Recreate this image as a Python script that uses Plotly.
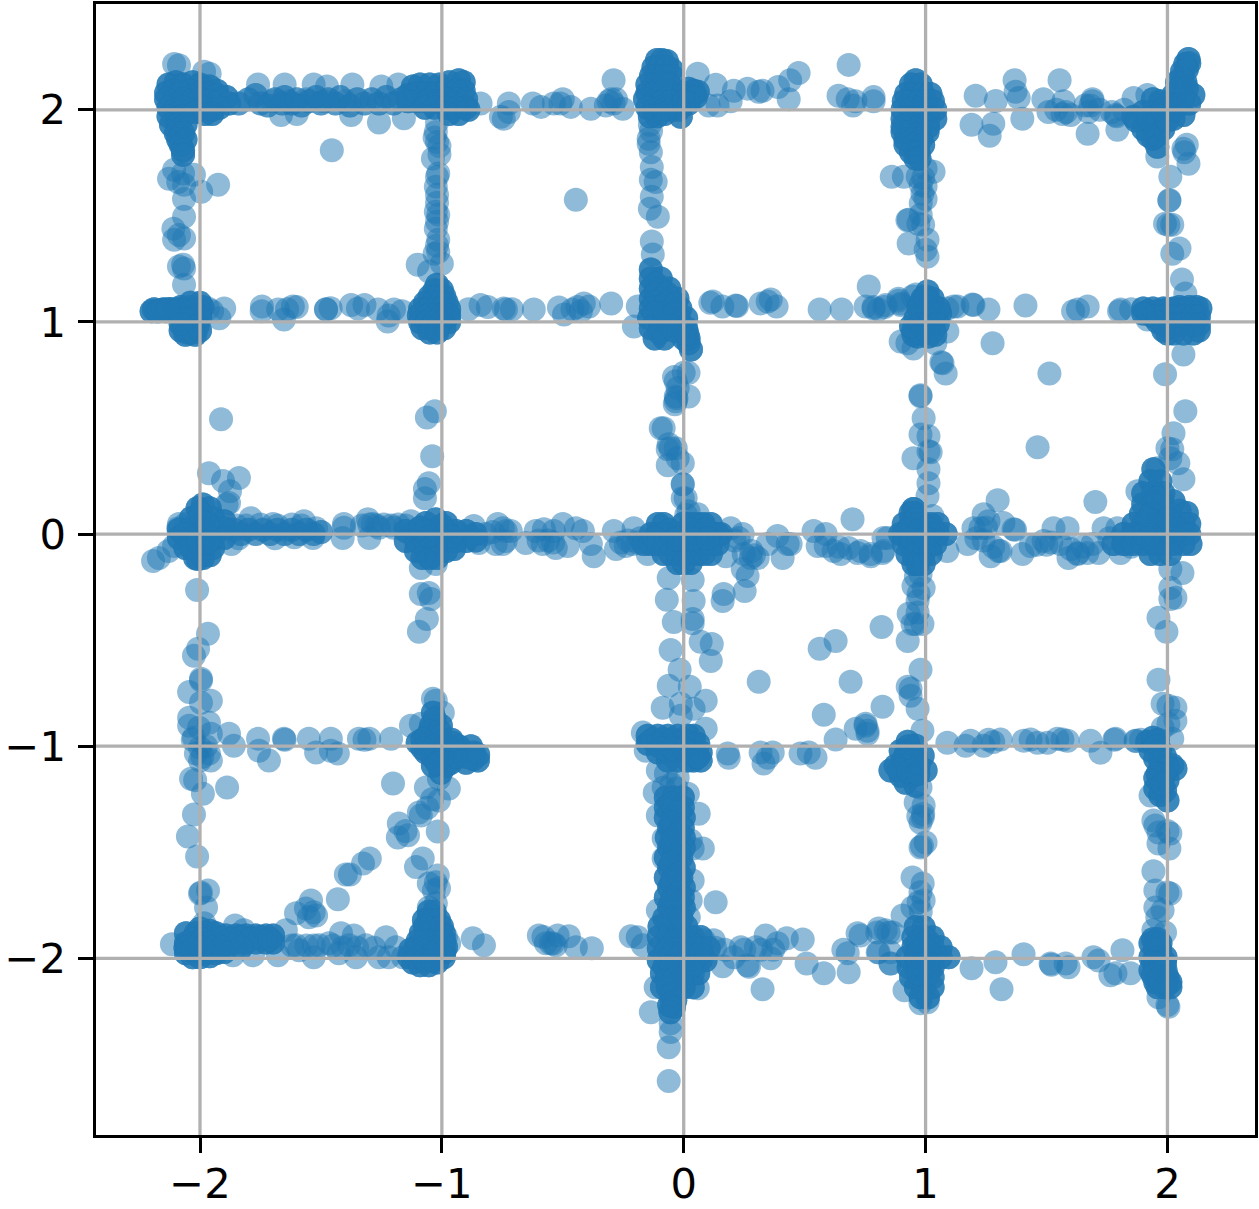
import plotly.graph_objects as go

# Each named list holds (x, y) values.
blob_m2_2 = [(-2.13,2.12),(-2.10,2.13),(-2.07,2.12),(-2.03,2.13),(-2.0,2.12),(-1.96,2.11),(-1.93,2.09),
(-2.14,2.08),(-2.11,2.09),(-2.08,2.08),(-2.04,2.09),(-2.0,2.08),(-1.97,2.08),(-1.93,2.07),(-1.89,2.06),
(-2.14,2.05),(-2.11,2.04),(-2.07,2.05),(-2.04,2.04),(-2.0,2.05),(-1.96,2.04),(-1.92,2.04),(-1.88,2.03),
(-2.13,2.01),(-2.10,2.0),(-2.07,2.01),(-2.03,2.0),(-1.99,2.01),(-1.95,2.0),(-1.92,2.01),
(-2.13,1.97),(-2.10,1.96),(-2.07,1.97),(-2.02,1.99),(-1.98,1.98),(-1.95,1.98),
(-2.12,1.93),(-2.09,1.93),(-2.06,1.93),(-2.10,1.89),(-2.07,1.89),(-2.09,1.86),(-2.06,1.86),(-2.08,1.835),(-2.07,1.81),(-2.07,1.788),
(-2.107,2.216),(-2.087,2.21),(-1.983,2.18),(-1.96,2.17)]
left_edge_top = [(-2.107,1.717),(-2.128,1.675),(-2.07,1.70),(-2.025,1.694),(-2.09,1.66),(-2.066,1.647),(-2.066,1.58),(-1.995,1.614),(-1.925,1.647),
(-2.066,1.496),(-2.11,1.44),(-2.107,1.388),(-2.066,1.393),(-2.087,1.41),(-2.087,1.261),(-2.066,1.252),(-2.066,1.176),(-2.07,1.27)]
top_row_a = [(-1.76,2.12),(-1.65,2.12),(-1.53,2.12),(-1.475,2.11),(-1.37,2.12),(-1.25,2.11),(-1.18,2.12),
(-1.665,1.976),(-1.60,1.98),(-1.375,1.976),(-1.26,1.94),(-1.157,1.96),
(-1.84,2.03),(-1.80,2.05),(-1.77,2.07),(-1.75,2.03),(-1.72,2.02),(-1.69,2.05),(-1.66,2.03),(-1.65,2.06),(-1.62,2.03),(-1.60,2.05),(-1.58,2.02),(-1.55,2.04),
(-1.52,2.06),(-1.50,2.03),(-1.47,2.05),(-1.44,2.03),(-1.42,2.06),(-1.38,2.02),(-1.35,2.05),(-1.32,2.03),(-1.29,2.05),(-1.26,2.03),(-1.23,2.06),(-1.20,2.03),(-1.17,2.05),
(-1.70,2.04),(-1.63,2.04),(-1.56,2.05),(-1.49,2.04),(-1.40,2.04)]
blob_m1_2 = [(-1.12,2.11),(-1.09,2.12),(-1.05,2.12),(-1.01,2.12),(-0.97,2.13),(-0.93,2.14),(-0.91,2.13),
(-1.14,2.07),(-1.10,2.08),(-1.06,2.08),(-1.02,2.08),(-0.98,2.09),(-0.94,2.09),(-0.91,2.09),
(-1.14,2.04),(-1.10,2.04),(-1.06,2.04),(-1.02,2.04),(-0.98,2.05),(-0.94,2.05),(-0.90,2.05),
(-1.07,2.01),(-1.03,2.01),(-0.98,2.01),(-0.94,2.01),(-0.90,2.01),(-0.97,1.98),(-0.93,1.98),(-0.89,2.0),
(-0.84,2.03),(-0.756,1.967),(-0.723,2.03),(-0.723,1.99),(-0.744,1.958)]
edge_m1_upper = [(-1.025,1.896),(-1.02,1.849),(-1.01,1.79),(-1.037,1.77),(-1.015,1.70),(-1.02,1.685),(-1.025,1.638),(-1.02,1.562),(-1.015,1.506),(-1.02,1.473),
(-1.025,1.44),(-1.015,1.388),(-1.03,1.322),(-1.0,1.275),(-1.015,1.33),(-1.10,1.27),(-1.053,1.238),(-1.02,1.94),(-1.03,1.87),(-1.01,1.83),(-1.02,1.60),(-1.025,1.52),(-1.02,1.36)]
blob_m2_1 = [(-2.2,1.05),(-2.18,1.05),(-2.16,1.055),(-2.14,1.05),(-2.12,1.06),(-2.10,1.05),(-2.08,1.07),(-2.06,1.05),(-2.04,1.07),(-2.02,1.05),(-1.99,1.07),
(-2.19,1.06),(-2.15,1.06),(-2.11,1.05),(-2.07,1.06),(-2.03,1.06),(-2.0,1.05),(-2.17,1.05),(-2.13,1.06),(-2.09,1.06),
(-2.04,1.09),(-2.0,1.09),(-2.03,1.02),(-2.0,1.02),(-2.07,1.01),(-2.05,1.01),(-2.07,0.98),(-2.04,0.98),(-2.01,0.98),(-2.08,0.96),(-2.05,0.95),(-2.03,0.95),(-2.0,0.96),(-2.06,0.94),(-2.02,0.94),(-2.08,0.99),
(-1.967,1.064),(-1.90,1.064),(-1.92,1.017),(-1.95,1.05)]
row_1_a = [(-1.744,1.073),(-1.745,1.05),(-1.677,1.059),(-1.616,1.073),(-1.653,1.012),(-1.64,1.06),(-1.479,1.059),(-1.479,1.06),(-1.375,1.08),(-1.347,1.064),(-1.32,1.08),
(-1.264,1.059),(-1.224,1.002),(-1.198,1.059),(-1.165,1.05),(-1.60,1.07),(-1.22,1.03),(-1.46,1.065)]
blob_m1_1 = [(-1.02,1.176),(-1.03,1.15),(-1.00,1.15),(-1.05,1.12),(-1.02,1.12),(-0.99,1.12),(-1.07,1.09),(-1.04,1.09),(-1.01,1.09),(-0.98,1.09),
(-1.09,1.06),(-1.06,1.06),(-1.03,1.06),(-1.0,1.06),(-0.97,1.06),(-1.095,1.03),(-1.06,1.03),(-1.03,1.03),(-1.0,1.03),(-0.97,1.03),
(-1.09,1.0),(-1.06,1.0),(-1.03,1.0),(-1.0,1.0),(-0.97,1.0),(-1.08,0.97),(-1.05,0.97),(-1.02,0.97),(-0.99,0.97),(-1.05,0.95),(-1.02,0.95),
(-0.84,1.08),(-0.744,1.064),(-0.89,1.06),(-0.81,1.07)]
row_1_b = [(-0.735,1.059),(-0.71,1.06),(-0.62,1.059),(-0.516,1.068),(-0.495,1.035),(-0.46,1.059),(-0.425,1.05),(-0.413,1.087),(-0.392,1.073),(-0.30,1.087),(-0.44,1.07)]
top_row_b = [(-0.624,2.03),(-0.59,2.014),(-0.537,2.03),(-0.50,2.05),(-0.467,2.014),(-0.384,2.005),(-0.322,2.02),(-0.30,2.05),(-0.29,2.14),(-0.29,2.03),(-0.252,2.005),(-0.31,2.04),(-0.28,2.05),(-0.51,2.03)]
blob_0_2 = [(-0.11,2.235),(-0.09,2.235),(-0.07,2.23),(-0.125,2.20),(-0.10,2.20),(-0.07,2.20),(-0.05,2.19),(-0.135,2.16),(-0.11,2.16),(-0.08,2.16),(-0.05,2.16),
(-0.15,2.12),(-0.12,2.12),(-0.09,2.12),(-0.06,2.12),(-0.15,2.08),(-0.12,2.08),(-0.09,2.08),(-0.05,2.08),(-0.16,2.05),(-0.12,2.04),(-0.09,2.04),(-0.05,2.04),
(-0.15,2.01),(-0.12,2.0),(-0.08,2.0),(-0.05,2.0),(-0.14,1.97),(-0.11,1.97),(-0.08,1.98),(-0.012,1.967),(-0.02,2.0),
(0.0,2.08),(0.02,2.10),(0.04,2.09),(0.058,2.085),(0.03,2.06),(0.05,2.06),(0.0,2.04),(0.02,2.03),
(0.058,2.17),(0.132,2.118),(0.103,2.02),(0.14,2.02),(0.194,2.04),(0.207,2.09),(0.264,2.10),(0.31,2.085),(0.326,2.09),(0.39,2.108),(0.434,2.05),(0.44,2.14),(0.475,2.174),
(0.682,2.212),(0.64,2.066),(0.678,2.05),(0.70,2.02),(0.71,2.04),(0.785,2.06),(0.785,2.04)]
edge_0_upper = [(-0.145,1.864),(-0.145,1.84),(-0.136,1.80),(-0.132,1.73),(-0.136,1.67),(-0.116,1.66),(-0.132,1.59),(-0.14,1.534),(-0.107,1.496),(-0.132,1.379),(-0.128,1.318),(-0.135,1.90),(-0.14,1.93)]
isolated = [(-0.446,1.576),(-1.455,1.81)]
blob_0_1 = [(-0.136,1.247),(-0.136,1.205),(-0.095,1.205),(-0.136,1.158),(-0.095,1.158),(-0.06,1.158),(-0.115,1.18),(-0.136,1.11),(-0.095,1.11),(-0.054,1.11),(-0.026,1.11),(-0.115,1.135),(-0.07,1.135),
(-0.136,1.064),(-0.095,1.064),(-0.054,1.064),(-0.014,1.064),(-0.115,1.09),(-0.075,1.085),(-0.035,1.085),(-0.143,1.017),(-0.10,1.017),(-0.06,1.017),(-0.02,1.017),(0.01,1.017),
(-0.12,1.04),(-0.08,1.04),(-0.04,1.04),(-0.136,0.97),(-0.095,0.97),(-0.02,0.97),(0.01,0.97),(-0.06,0.985),(-0.12,0.922),(-0.08,0.922),(0.0,0.922),(0.02,0.922),(0.02,0.90),(0.03,0.87),(-0.10,0.95),(-0.04,0.96),(0.015,0.945),
(-0.206,0.979),(-0.19,1.073)]
row_1_c = [(0.12,1.096),(0.11,1.09),(0.16,1.073),(0.215,1.078),(0.22,1.075),(0.318,1.087),(0.36,1.106),(0.347,1.096),(0.384,1.073),(0.562,1.059),(0.653,1.059),(0.752,1.073),(0.765,1.167),(0.785,1.064),(0.806,1.059),(0.835,1.08),(0.888,1.11),(0.897,1.087),(0.946,1.12)]
blob_1_2 = [(0.959,2.14),(0.94,2.12),(0.98,2.12),(0.92,2.075),(0.95,2.075),(0.99,2.075),(1.02,2.075),(0.91,2.04),(0.94,2.04),(0.97,2.04),(1.0,2.04),(1.03,2.04),
(0.905,2.0),(0.94,2.0),(0.975,2.0),(1.01,2.0),(1.04,2.0),(0.905,1.958),(0.94,1.958),(0.975,1.958),(1.01,1.958),(1.04,1.958),(0.905,1.92),(0.94,1.92),(0.975,1.92),(1.01,1.92),
(0.905,1.896),(0.94,1.896),(0.975,1.89),(1.008,1.896),(0.917,1.86),(0.95,1.86),(0.98,1.86),(0.917,1.835),(0.95,1.835),(0.99,1.835),(0.94,1.80),(0.97,1.80),(0.959,1.77),(0.975,1.77)]
edge_1_upper = [(1.033,1.708),(1.0,1.722),(0.967,1.685),(0.91,1.685),(0.86,1.685),(0.98,1.647),(0.987,1.605),(1.0,1.58),(0.98,1.56),(0.93,1.482),(0.925,1.48),(0.98,1.506),(0.99,1.458),(0.93,1.37),(1.008,1.388),(1.0,1.34),(1.008,1.308),(0.97,1.463),(0.99,1.68),(1.0,1.64)]
top_row_c = [(1.207,2.066),(1.29,2.042),(1.19,1.93),(1.28,1.934),(1.265,1.878),(1.368,2.14),(1.372,2.085),(1.385,2.056),(1.40,1.958),(1.487,2.05),(1.554,2.14),(1.508,1.99),(1.57,2.04),(1.566,1.98),(1.60,1.976),(1.58,1.99),
(1.69,2.04),(1.682,2.02),(1.674,1.99),(1.69,2.05),(1.67,1.887),(1.785,1.976),(1.793,1.906),(1.77,1.99),(1.86,2.056),(1.917,2.07),(1.79,1.97),(1.54,2.0),(1.66,2.02),(1.72,2.0),(1.82,2.0)]
blob_2_2 = [(2.087,2.24),(2.074,2.216),(2.06,2.18),(2.09,2.22),(2.08,2.19),(2.04,2.13),(2.074,2.13),(2.06,2.15),(2.025,2.07),(2.066,2.06),(2.107,2.07),(2.05,2.10),(2.08,2.10),(2.012,2.005),(2.066,1.976),(1.97,2.04),(1.94,2.05),
(1.90,1.99),(1.86,1.967),(1.94,1.99),(1.983,1.976),(1.90,1.91),(1.94,1.864),(1.958,1.826),(1.983,1.91),(2.025,1.958),(1.94,1.93),(1.92,1.88),(2.0,2.03),(2.04,2.02),(1.96,1.94),(1.87,1.95),(1.92,1.96),(1.96,1.88),(2.0,1.95),(2.03,2.0),(1.98,2.0),(2.09,2.03),
(1.958,1.78),(2.066,1.817),(2.07,1.80),(2.08,1.835),(2.087,1.746),(2.012,1.685),(2.008,1.572),(2.008,1.575),(1.99,1.463),(2.004,1.458),(2.02,1.458),(2.05,1.346),(2.02,1.322),(2.06,1.20),(2.074,1.134)]
blob_2_1 = [(1.90,1.064),(1.94,1.064),(1.983,1.064),(2.025,1.064),(2.066,1.064),(2.107,1.064),(2.136,1.064),(1.92,1.05),(1.96,1.05),(2.0,1.06),(2.05,1.07),(2.09,1.07),(2.12,1.07),
(1.94,1.026),(1.983,1.026),(2.025,1.026),(2.066,1.026),(2.107,1.026),(2.13,1.026),(1.90,1.04),(1.983,0.988),(2.025,0.988),(2.066,0.988),(2.107,0.988),(2.13,0.988),(1.96,1.0),
(2.0,0.946),(2.025,0.946),(2.066,0.946),(2.107,0.946),(2.13,0.96),(1.983,0.96),
(1.806,1.059),(1.80,1.05),(1.917,1.012),(1.61,1.05),(1.63,1.059),(1.67,1.073),(1.413,1.078),(1.26,1.059),(1.277,0.90),(1.512,0.757),(1.99,0.753),(2.066,0.847),(1.85,1.06)]
blob_1_1 = [(1.008,1.144),(0.987,1.11),(1.029,1.11),(0.971,1.064),(1.012,1.064),(1.054,1.064),(0.959,1.017),(1.0,1.017),(1.041,1.017),(0.95,0.965),(0.992,0.965),(1.033,0.965),(0.967,0.932),(1.012,0.932),
(0.98,1.09),(1.02,1.09),(0.99,1.04),(1.03,1.04),(1.06,1.04),(0.975,0.99),(1.01,0.99),(1.05,0.99),(0.95,0.94),(0.985,0.945),(1.04,0.94),(1.0,1.12),(0.94,0.98),
(1.132,1.073),(1.194,1.082),(1.198,1.08),(1.09,0.955),(0.897,0.908),(0.925,0.90),(0.95,0.875),(1.04,0.90),(1.07,0.805),(1.083,0.757),(1.065,0.81),(1.09,1.064),(1.116,1.073),
(0.785,1.07),(0.83,1.07),(0.888,1.10),(0.897,1.08),(0.96,1.13)]
above_m2_0 = [(-1.913,0.541),(-1.963,0.287),(-1.905,0.25),(-1.839,0.264),(-1.876,0.202),(-1.88,0.146),(-1.89,0.14)]
blob_m2_0 = [(-2.194,-0.127),(-2.17,-0.113),(-2.13,-0.08),(-2.107,-0.056),(-2.09,0.028),(-2.087,0.047),(-2.058,0.047),
(-1.988,0.14),(-2.01,0.122),(-1.96,0.122),(-2.037,0.075),(-2.0,0.075),(-1.946,0.075),(-1.90,0.06),(-2.087,0.02),(-2.037,0.028),(-1.988,0.028),(-1.946,0.028),(-1.90,0.028),
(-2.087,-0.019),(-2.037,-0.019),(-1.988,-0.019),(-1.946,-0.019),(-1.90,-0.019),(-2.06,-0.066),(-2.037,-0.066),(-1.988,-0.066),(-1.946,-0.066),(-2.02,-0.113),(-1.988,-0.113),(-1.96,-0.10),(-2.008,-0.118),(-2.0,0.10),(-1.97,0.05),(-2.06,0.0),(-2.01,-0.04),(-1.97,-0.04)]
row_0_a = [(-1.79,0.075),(-1.698,0.047),(-1.57,0.061),(-1.533,-0.019),(-1.52,0.028),(-1.87,-0.047),(-1.86,0.02),(-1.83,0.0),(-1.80,0.02),(-1.77,0.0),(-1.74,0.02),(-1.71,0.0),(-1.68,0.02),(-1.65,0.0),(-1.62,0.02),(-1.59,0.0),(-1.56,0.02),(-1.53,0.0),(-1.50,0.01),
(-1.85,0.04),(-1.81,0.04),(-1.75,0.045),(-1.68,0.04),(-1.62,0.045),(-1.58,0.04),(-1.84,-0.02),(-1.69,-0.02),(-1.61,-0.015),
(-1.405,0.047),(-1.405,0.03),(-1.41,-0.019),(-1.306,0.07),(-1.30,-0.019),(-1.285,0.047),(-1.128,0.061),(-1.33,0.04),(-1.30,0.045),(-1.27,0.04),(-1.24,0.045),(-1.21,0.04),(-1.18,0.045),(-1.26,0.03),(-1.15,0.04),(-1.20,0.03)]
blob_m1_0 = [(-1.066,0.052),(-1.025,0.07),(-0.983,0.052),(-1.107,0.014),(-1.066,0.014),(-1.025,0.014),(-0.983,0.014),(-0.942,0.014),(-1.149,0.014),(-0.90,0.014),(-0.86,0.0),
(-1.149,-0.033),(-1.107,-0.033),(-1.066,-0.033),(-1.025,-0.033),(-0.983,-0.033),(-0.942,-0.033),(-0.90,-0.033),(-0.86,-0.03),
(-1.107,-0.08),(-1.066,-0.08),(-1.025,-0.08),(-0.983,-0.08),(-0.95,-0.07),(-1.08,-0.113),(-1.05,-0.113),(-1.02,-0.113),(-1.09,0.03),(-1.0,0.04),(-1.05,-0.01),(-0.96,-0.01),
(-1.087,-0.16),(-1.025,-0.141),(-0.868,0.038),(-0.769,0.047),(-0.777,-0.047),(-0.736,0.014),(-0.736,-0.033),(-0.847,-0.042),(-0.82,0.0),(-0.79,0.01)]
edge_m1_mid = [(-1.062,0.55),(-1.029,0.579),(-1.04,0.367),(-1.054,0.24),(-1.07,0.212),(-1.07,0.169),(-1.087,-0.282),(-1.054,-0.278),(-1.045,-0.306),(-1.062,-0.40),(-1.095,-0.461)]
edge_m2_mid = [(-2.012,-0.264),(-1.967,-0.47),(-2.008,-0.541),(-2.025,-0.574),(-1.996,-0.682),(-1.996,-0.69),(-2.045,-0.744),(-1.955,-0.786),(-1.996,-0.795),(-2.045,-0.866),(-1.963,-0.889),(-2.045,-0.904),(-2.004,-0.913),(-2.025,-0.96),(-1.88,-0.941),(-1.955,-0.941),
(-2.0,-1.007),(-2.03,-0.97),(-1.975,-1.0),(-2.017,-1.035),(-1.963,-1.035),(-1.99,-1.05),(-1.955,-1.068),(-2.0,-1.068),(-2.037,-1.153),(-2.02,-1.16),(-1.988,-1.224),(-1.888,-1.195),(-2.025,-1.322),(-2.05,-1.426),(-2.012,-1.52)]
row_m1_a = [(-1.86,-0.998),(-1.76,-0.965),(-1.756,-1.021),(-1.715,-1.068),(-1.653,-0.965),(-1.65,-0.97),(-1.55,-0.965),(-1.52,-1.03),(-1.459,-0.965),(-1.459,-1.021),(-1.43,-1.035),(-1.343,-0.965),(-1.30,-0.965),(-1.21,-0.965),(-1.32,-0.97)]
blob_m1_m1 = [(-1.037,-0.842),(-1.045,-0.904),(-1.004,-0.904),(-1.066,-0.96),(-1.017,-0.96),(-1.10,-0.984),(-1.054,-0.984),(-1.004,-0.984),(-0.955,-0.984),(-1.066,-1.03),(-1.017,-1.03),(-0.967,-1.03),(-0.917,-1.03),(-0.868,-1.03),
(-0.851,-1.068),(-0.90,-1.078),(-0.963,-1.078),(-1.037,-1.092),(-1.004,-1.125),(-0.983,-1.092),(-1.03,-0.87),(-1.05,-0.93),(-1.01,-0.93),(-1.08,-0.97),(-1.03,-1.0),(-0.98,-1.0),(-0.93,-1.0),(-0.88,-1.0),(-0.85,-1.04),(-0.90,-1.05),(-0.94,-1.05),(-1.0,-1.05),(-1.04,-1.05),(-1.08,-1.01),(-0.87,-1.06),(-1.02,-1.08),(-0.96,-0.97),
(-1.128,-0.904),(-1.037,-0.776),(-1.025,-0.786),(-0.996,-0.842),(-1.087,-0.894)]
edge_m1_lower = [(-1.066,-1.195),(-1.012,-1.153),(-0.971,-1.20),(-1.012,-1.256),(-1.202,-1.176),(-1.087,-1.327),(-1.095,-1.313),(-1.178,-1.365),(-1.182,-1.43),(-1.14,-1.42),(-1.017,-1.402),(-1.079,-1.53),(-1.107,-1.57),(-1.017,-1.61),(-1.025,-1.642),(-1.054,-1.647),(-1.012,-1.67),(-1.033,-1.68),(-1.054,-1.76),(-1.025,-1.741),(-1.04,-1.25),(-1.06,-1.29),(-1.15,-1.40)]
diagonal = [(-1.298,-1.53),(-1.326,-1.553),(-1.38,-1.605),(-1.397,-1.605),(-1.43,-1.722),(-1.541,-1.727),(-1.562,-1.765),(-1.52,-1.798),(-1.53,-1.783),(-1.603,-1.788),(-1.55,-1.807)]
blob_m2_m2 = [(-2.116,-1.934),(-1.983,-1.835),(-1.975,-1.76),(-1.996,-1.69),(-1.967,-1.68),(-2.0,-1.695),(-2.0,-1.86),(-1.96,-1.87),
(-2.058,-1.882),(-2.017,-1.882),(-1.975,-1.882),(-1.934,-1.882),(-2.058,-1.929),(-2.017,-1.929),(-1.975,-1.929),(-1.934,-1.929),(-2.058,-1.976),(-2.017,-1.976),(-1.975,-1.976),(-1.934,-1.976),(-2.03,-1.995),(-2.0,-1.995),(-1.96,-1.99),(-2.06,-1.95),(-2.03,-1.91),(-1.99,-1.91),(-1.95,-1.95),(-1.99,-1.95),(-2.03,-1.96),
(-1.893,-1.892),(-1.851,-1.892),(-1.81,-1.892),(-1.769,-1.892),(-1.727,-1.892),(-1.698,-1.892),(-1.893,-1.925),(-1.851,-1.925),(-1.81,-1.925),(-1.769,-1.925),(-1.727,-1.925),(-1.698,-1.925),(-1.87,-1.91),(-1.83,-1.90),(-1.79,-1.91),(-1.75,-1.90),(-1.71,-1.91),(-1.91,-1.95),(-1.83,-1.95),(-1.90,-1.97),
(-1.855,-1.845),(-1.818,-1.868),(-1.864,-1.986),(-1.781,-1.986),(-1.678,-1.986)]
row_m2_a = [(-1.603,-1.939),(-1.59,-1.962),(-1.53,-1.995),(-1.508,-1.939),(-1.53,-1.94),(-1.417,-1.882),(-1.364,-1.892),(-1.426,-1.976),(-1.355,-1.995),(-1.384,-1.939),(-1.467,-1.929),(-1.314,-1.939),(-1.231,-1.901),(-1.26,-1.995),(-1.19,-1.948),(-1.22,-1.995),(-1.645,-1.868),(-1.56,-1.94),(-1.45,-1.94),(-1.28,-1.95),(-1.35,-1.95),(-1.41,-1.95),(-1.62,-1.94)]
blob_m1_m2 = [(-1.054,-1.78),(-1.03,-1.78),(-1.074,-1.821),(-1.054,-1.821),(-1.033,-1.821),(-1.012,-1.821),(-1.087,-1.882),(-1.054,-1.882),(-1.033,-1.86),(-1.012,-1.882),(-0.992,-1.882),(-1.07,-1.85),(-1.0,-1.85),
(-1.107,-1.948),(-1.074,-1.948),(-1.033,-1.948),(-0.983,-1.948),(-1.07,-1.92),(-1.03,-1.92),(-0.99,-1.92),(-1.10,-1.92),(-1.136,-1.995),(-1.107,-1.995),(-1.074,-1.995),(-1.033,-1.995),(-0.992,-1.995),(-1.07,-1.97),(-1.03,-1.97),(-0.99,-1.97),(-1.13,-1.96),
(-1.12,-2.02),(-1.09,-2.033),(-1.054,-2.033),(-1.02,-2.02),(-1.07,-2.01),(-1.04,-2.01),
(-0.872,-1.906),(-0.826,-1.939),(-0.983,-1.90),(-1.161,-1.995),(-0.97,-1.93)]
row_0_b = [(-0.748,0.028),(-0.715,0.014),(-0.748,-0.047),(-0.653,-0.042),(-0.612,0.014),(-0.578,0.023),(-0.583,-0.047),(-0.56,-0.03),(-0.529,-0.066),(-0.50,0.047),(-0.537,0.014),(-0.48,-0.056),(-0.446,0.028),(-0.417,0.014),(-0.372,-0.104),(-0.384,-0.047),(-0.289,0.014),(-0.28,-0.07),(-0.24,-0.056),(-0.207,0.028),(-0.26,-0.04),(-0.21,-0.047),(-0.149,-0.094),(-0.19,-0.04),(-0.23,-0.03),(-0.18,-0.02),(-0.54,-0.04),(-0.60,-0.03)]
blob_0_0 = [(-0.107,0.047),(-0.083,0.047),(0.029,0.047),(0.058,0.047),(0.083,0.047),(0.112,0.047),(-0.136,0.0),(-0.107,0.0),(-0.083,0.0),(-0.054,0.0),(-0.025,0.0),(0.0,0.0),(0.029,0.0),(0.058,0.0),(0.083,0.0),(0.112,0.0),(0.14,0.0),(0.153,0.0),
(-0.165,-0.047),(-0.136,-0.047),(-0.107,-0.047),(-0.083,-0.047),(-0.054,-0.047),(-0.025,-0.047),(0.0,-0.047),(0.029,-0.047),(0.058,-0.047),(0.083,-0.047),(0.112,-0.047),(0.14,-0.047),
(-0.083,-0.094),(-0.054,-0.094),(-0.025,-0.094),(0.0,-0.094),(0.029,-0.094),(0.058,-0.094),(0.083,-0.094),(0.112,-0.094),(-0.025,-0.136),(0.0,-0.136),(0.029,-0.136),(-0.06,0.02),(0.0,0.05),(0.03,0.02),(0.09,0.02),(-0.03,-0.02),(0.04,-0.02),(0.1,-0.02),(-0.12,-0.02),
(0.008,0.169),(-0.004,0.235),(0.02,0.108),(0.058,0.094),(0.01,0.09)]
row_0_c = [(0.194,0.028),(0.174,-0.104),(0.244,0.0),(0.227,-0.019),(0.248,-0.094),(0.277,-0.113),(0.306,-0.113),(0.29,-0.1),(0.244,-0.165),(0.264,-0.198),(0.252,-0.268),(0.165,-0.282),(0.161,-0.315),(0.347,-0.047),(0.388,-0.009),(0.409,-0.113),(0.43,-0.047),(0.442,-0.047),
(0.537,0.014),(0.587,0.0),(0.698,0.07),(0.554,-0.056),(0.587,-0.056),(0.62,-0.08),(0.649,-0.094),(0.682,-0.066),(0.719,-0.089),(0.773,-0.104),(0.826,-0.08),(0.843,-0.019),(0.64,-0.06),(0.21,-0.03),(0.28,-0.08)]
edge_0_lower_a = [(-0.062,-0.207),(0.037,-0.216),(-0.07,-0.31),(0.041,-0.315),(-0.041,-0.414),(0.037,-0.40),(0.037,-0.42),(0.07,-0.508),(0.116,-0.518),(0.112,-0.598),(-0.054,-0.546),(-0.017,-0.64),(-0.062,-0.715),(0.025,-0.72),(-0.087,-0.819),(-0.012,-0.80),(0.091,-0.786),(0.041,-0.824),(-0.012,-0.856),(0.091,-0.918)]
edge_0_mid = [(-0.095,0.499),(-0.083,0.499),(-0.062,0.424),(-0.054,0.405),(-0.066,0.40),(-0.033,0.405),(-0.066,0.325),(-0.004,0.334),(-0.025,0.358),(-0.004,0.235),(-0.004,0.169),(-0.033,0.626),(-0.033,0.649),(-0.037,0.612),(0.021,0.649),(-0.025,0.687),(-0.033,0.72),(0.0,0.76),(0.02,0.76),(-0.04,0.74),(-0.03,0.64)]
blob_0_m1 = [(-0.169,-0.936),(-0.157,-1.021),(-0.149,-0.951),(-0.107,-0.951),(-0.066,-0.951),(-0.025,-0.951),(0.017,-0.951),(0.041,-0.951),(-0.149,-0.988),(-0.107,-0.988),(-0.066,-0.988),(-0.025,-0.988),(0.017,-0.988),(0.041,-0.988),(0.06,-0.99),
(-0.107,-1.03),(-0.066,-1.03),(-0.025,-1.03),(0.017,-1.03),(0.041,-1.03),(0.07,-1.03),(-0.066,-1.068),(-0.025,-1.068),(0.017,-1.068),(0.041,-1.068),(0.07,-1.068),(-0.13,-0.97),(-0.085,-0.97),(-0.045,-0.97),(0.0,-0.97),(-0.09,-1.01),(-0.045,-1.01),(0.0,-1.01),(0.05,-1.05),(0.06,-1.05)]
row_m1_b = [(0.182,-1.035),(0.186,-1.054),(0.318,-1.03),(0.33,-1.082),(0.368,-1.03),(0.347,-1.054),(0.483,-1.035),(0.517,-1.03),(0.545,-1.054),(0.628,-0.969),(0.711,-0.918),(0.752,-0.904),(0.76,-0.927),(0.822,-0.814),(0.579,-0.852),(0.69,-0.696),(0.31,-0.696),(0.562,-0.541),(0.628,-0.504),(0.818,-0.438)]
edge_1_mid = [(0.979,0.654),(0.979,0.65),(0.992,0.546),(0.979,0.47),(1.012,0.461),(1.012,0.39),(1.021,0.386),(0.95,0.358),(1.012,0.306),(1.012,0.24),(1.008,0.179),(1.029,0.085),(0.95,0.118)]
scatter_right = [(1.463,0.409),(2.074,0.579),(2.025,0.475),(2.0,0.405),(2.02,0.40),(2.012,0.358),(2.045,0.334),(1.958,0.31),(2.066,0.259),(1.876,0.202),(1.702,0.151)]
row_0_d = [(1.298,0.16),(1.24,0.094),(1.26,0.061),(1.198,0.028),(1.322,0.052),(1.364,0.023),(1.37,0.02),(1.174,-0.047),(1.227,0.028),(1.269,-0.104),(1.302,-0.08),(1.31,-0.08),(1.40,-0.094),(1.434,-0.056),(1.488,-0.033),(1.529,0.028),(1.587,0.028),(1.52,-0.04),(1.558,-0.047),(1.591,-0.113),(1.628,-0.094),(1.669,-0.089),(1.69,-0.047),(1.715,-0.089),(1.736,0.028),(1.793,0.028),(1.806,-0.089),(1.835,-0.047),(1.85,-0.06),(1.84,-0.02),
(1.24,-0.03),(1.28,-0.06),(1.21,-0.02),(1.46,-0.05),(1.50,-0.05),(1.60,-0.07),(1.65,-0.06),(1.76,-0.02),(1.63,-0.09),(1.25,0.03)]
blob_1_0 = [(0.95,0.118),(0.95,0.099),(0.938,0.099),(0.91,0.047),(0.938,0.047),(0.967,0.047),(0.992,0.047),(1.021,0.047),(1.05,0.047),(0.895,0.0),(0.91,0.0),(0.938,0.0),(0.967,0.0),(0.992,0.0),(1.021,0.0),(1.05,0.0),(1.083,0.0),
(0.91,-0.047),(0.938,-0.047),(0.967,-0.047),(0.992,-0.047),(1.021,-0.047),(1.04,-0.047),(0.925,-0.094),(0.95,-0.094),(0.967,-0.094),(0.992,-0.094),(1.021,-0.094),(0.95,-0.141),(0.967,-0.141),(0.992,-0.141),(0.96,0.07),(0.93,0.02),(0.98,0.02),(1.03,0.02),(0.94,-0.02),(1.0,-0.02),
(0.826,-0.019),(0.822,-0.089),(0.773,-0.094),(0.731,-0.08),(1.09,-0.08)]
edge_1_lower_a = [(0.95,-0.245),(0.992,-0.254),(0.971,-0.282),(0.967,-0.315),(0.93,-0.376),(0.967,-0.37),(0.959,-0.424),(0.987,-0.424),(0.946,-0.424),(0.926,-0.504),(0.979,-0.19),(0.96,-0.2),
(0.979,-0.64),(0.926,-0.72),(0.938,-0.729),(0.938,-0.762),(0.967,-0.824),(0.752,-0.894),(0.76,-0.941),(0.987,-0.927)]
blob_1_m1 = [(0.926,-0.979),(0.959,-0.998),(0.897,-1.021),(0.946,-1.031),(0.988,-1.045),(0.876,-1.092),(0.917,-1.092),(0.971,-1.092),(0.855,-1.115),(0.897,-1.139),(0.946,-1.139),(1.0,-1.115),(0.917,-1.172),(0.959,-1.186),(0.93,-1.0),(0.92,-1.03),(0.96,-1.04),(0.91,-1.06),(0.95,-1.07),(0.89,-1.11),(0.93,-1.12),(0.97,-1.13)]
row_m1_c = [(1.09,-0.984),(1.165,-0.998),(1.186,-0.974),(1.24,-0.998),(1.28,-0.98),(1.31,-0.969),(1.26,-0.97),(1.405,-0.974),(1.434,-0.969),(1.463,-0.984),(1.504,-0.984),(1.545,-0.965),(1.566,-0.969),(1.587,-0.974),(1.682,-0.974),(1.723,-1.031),(1.785,-0.965),(1.78,-0.97),(1.868,-0.974),(1.87,-0.975)]
blob_2_m1 = [(1.917,-0.979),(1.95,-0.979),(1.93,-1.02),(1.97,-1.02),(1.97,-1.068),(2.02,-1.09),(1.97,-1.106),(2.033,-1.106),(1.983,-1.139),(1.95,-1.15),(2.0,-1.16),(1.95,-1.2),(1.99,-1.21),(1.97,-1.23),(2.0,-1.256),(1.94,-0.96),(1.96,-0.97),(1.95,-1.0),(1.99,-1.05),(1.95,-1.06),(2.0,-1.10),(1.96,-1.13),(1.98,-1.18),
(1.89,-0.97),(1.963,-0.687),(1.98,-0.80),(2.033,-0.819),(2.004,-0.809),(2.033,-0.88),(2.004,-0.894),(1.98,-0.913),(2.02,-0.965)]
edge_2_lower = [(1.93,-1.233),(1.942,-1.35),(1.95,-1.374),(1.963,-1.407),(2.012,-1.412),(2.0,-1.40),(1.963,-1.459),(2.008,-1.482),(1.942,-1.59),(1.95,-1.68),(2.012,-1.694),(2.0,-1.69),(1.95,-1.76),(1.98,-1.774),(1.958,-1.807),(1.942,-1.868),(1.99,-1.878)]
blob_2_m2 = [(1.93,-1.929),(1.95,-1.929),(1.971,-1.929),(1.93,-1.995),(1.95,-1.995),(1.971,-1.995),(1.992,-1.995),(1.93,-2.056),(1.95,-2.056),(1.971,-2.056),(1.992,-2.056),(1.95,-2.113),(1.971,-2.113),(1.992,-2.113),(2.012,-2.113),(1.95,-1.96),(1.97,-1.96),(1.94,-2.02),(1.97,-2.02),(1.99,-2.02),(1.94,-2.08),(1.97,-2.09),(2.0,-2.09),(1.96,-2.136),(1.99,-2.136),(2.012,-2.136),(1.94,-1.91),(1.96,-1.91),
(1.963,-2.184),(2.004,-2.23),(2.0,-2.22),(1.814,-1.962),(1.694,-1.995),(1.715,-2.01),(1.764,-2.08),(1.785,-2.07),(1.847,-2.07),(1.405,-1.981),(1.289,-2.019),(1.314,-2.146),(1.19,-2.047),(1.517,-2.024),(1.52,-2.03),(1.579,-2.024),(1.591,-2.042)]
blob_1_m2 = [(0.959,-1.854),(0.992,-1.854),(0.95,-1.901),(0.992,-1.901),(1.029,-1.901),(0.95,-1.948),(0.992,-1.948),(1.029,-1.948),(1.062,-1.948),(0.925,-1.995),(0.959,-1.995),(0.992,-1.995),(1.029,-1.995),(1.062,-1.995),(1.095,-1.995),(0.93,-2.042),(0.959,-2.042),(0.992,-2.042),(1.029,-2.042),(0.94,-2.089),(0.992,-2.089),(1.029,-2.089),(0.96,-2.136),(0.992,-2.136),(1.029,-2.136),(0.98,-2.184),(1.01,-2.184),(0.97,-1.92),(1.01,-1.92),(0.97,-1.97),(1.01,-1.97),(0.97,-2.02),(1.01,-2.02),(0.97,-2.07),(1.01,-2.07),
(0.913,-2.151),(0.979,-2.212),(1.008,-2.207),(0.855,-2.024),(0.806,-1.859),(0.835,-1.868),(0.864,-1.878),(0.802,-1.972),(0.855,-1.972),(0.731,-1.892),(0.905,-1.798),(0.946,-1.619),(0.988,-1.647),(0.979,-1.689),(0.971,-1.736),(0.992,-1.727),(0.946,-1.76),(0.98,-1.78),
(0.979,-1.478),(0.985,-1.47),(1.0,-1.454),(0.979,-1.36),(0.988,-1.336),(0.959,-1.266),(0.992,-1.28),(0.979,-1.195),(0.99,-1.32),(0.97,-1.33)]
blob_2_0 = [(1.942,0.306),(1.93,0.249),(1.97,0.249),(1.90,0.193),(1.942,0.193),(1.983,0.193),(1.90,0.141),(1.942,0.141),(1.983,0.141),(2.025,0.155),(1.89,0.094),(1.93,0.094),(1.97,0.094),(2.01,0.094),(2.05,0.11),(2.08,0.099),
(1.86,0.047),(1.90,0.047),(1.942,0.047),(1.983,0.047),(2.025,0.047),(2.066,0.047),(2.09,0.047),(1.818,0.0),(1.86,0.0),(1.90,0.0),(1.942,0.0),(1.983,0.0),(2.025,0.0),(2.066,0.0),(2.09,0.0),
(1.777,-0.047),(1.818,-0.047),(1.86,-0.047),(1.90,-0.047),(1.942,-0.047),(1.983,-0.047),(2.025,-0.047),(2.066,-0.047),(2.095,-0.047),(1.93,-0.094),(1.97,-0.094),(2.01,-0.094),(1.92,0.07),(1.96,0.03),(2.0,0.07),(1.96,0.17),(2.04,0.02),(1.92,-0.02),(2.0,-0.02),
(2.012,-0.165),(2.062,-0.184),(2.012,-0.254),(2.033,-0.30),(2.012,-0.306),(1.963,-0.395),(1.996,-0.461)]
edge_0_lower_b = [(-0.074,-1.242),(-0.041,-1.242),(-0.004,-1.242),(-0.074,-1.289),(-0.041,-1.289),(-0.004,-1.289),(-0.074,-1.336),(-0.041,-1.336),(0.0,-1.336),(-0.06,-1.384),(-0.041,-1.384),(-0.004,-1.384),(-0.07,-1.431),(-0.041,-1.431),(0.0,-1.431),(-0.06,-1.478),(-0.03,-1.478),(0.0,-1.478),(-0.074,-1.525),(-0.041,-1.525),(-0.01,-1.525),
(-0.06,-1.572),(-0.03,-1.572),(0.0,-1.572),(-0.074,-1.619),(-0.041,-1.619),(-0.01,-1.619),(-0.06,-1.666),(-0.03,-1.666),(0.0,-1.666),(-0.074,-1.713),(-0.041,-1.713),(-0.004,-1.713),(-0.06,-1.76),(-0.03,-1.76),(0.0,-1.76),(-0.05,-1.27),(-0.02,-1.31),(-0.05,-1.36),(-0.02,-1.41),(-0.05,-1.45),(-0.02,-1.50),(-0.05,-1.55),(-0.02,-1.60),(-0.05,-1.64),(-0.02,-1.69),(-0.05,-1.73),
(-0.12,-1.219),(-0.107,-1.327),(-0.083,-1.195),(0.062,-1.318),(0.079,-1.482),(-0.083,-1.435),(-0.083,-1.53),(0.037,-1.633),(0.029,-1.727),(0.132,-1.736),(-0.107,-1.774),(0.017,-1.224),(0.029,-1.445),(0.037,-1.482),(0.021,-1.807),(-0.074,-1.13),(-0.025,-1.148),(-0.107,-1.115),(-0.05,-1.18),(-0.03,-1.20)]
blob_0_m2 = [(-0.103,-1.90),(-0.066,-1.90),(-0.033,-1.90),(0.0,-1.90),(0.037,-1.90),(0.07,-1.90),(-0.103,-1.953),(-0.066,-1.953),(-0.033,-1.953),(0.0,-1.953),(0.037,-1.953),(0.07,-1.953),(0.103,-1.953),(-0.103,-2.009),(-0.066,-2.009),(-0.033,-2.009),(0.0,-2.009),(0.037,-2.009),(0.07,-2.009),(0.09,-2.009),
(-0.09,-2.07),(-0.066,-2.07),(-0.033,-2.07),(0.0,-2.07),(0.037,-2.07),(0.06,-2.07),(-0.09,-2.136),(-0.066,-2.136),(-0.033,-2.136),(0.0,-2.136),(0.037,-2.136),(-0.05,-2.198),(-0.035,-2.198),(-0.055,-2.254),(-0.05,-1.93),(-0.01,-1.93),(0.03,-1.93),(-0.08,-1.98),(-0.05,-1.98),(-0.01,-1.98),(0.03,-1.98),(0.07,-1.98),(-0.08,-2.04),(-0.05,-2.04),(-0.01,-2.04),(0.03,-2.04),(-0.07,-2.10),(-0.04,-2.10),(-0.01,-2.10),(-0.05,-2.17),(-0.06,-2.22),(-0.04,-2.23),(-0.10,-1.85),(-0.06,-1.85),(-0.02,-1.85),(0.01,-1.85),(-0.08,-1.81),(-0.04,-1.81),(-0.01,-1.81),
(-0.116,-2.136),(-0.136,-2.254),(-0.054,-2.348),(-0.062,-2.419),(-0.062,-2.579),(-0.054,-2.306),(0.058,-2.141),
(-0.219,-1.896),(-0.19,-1.901),(-0.169,-1.939),(-0.599,-1.892),(-0.57,-1.929),(-0.55,-1.929),(-0.521,-1.892),(-0.529,-1.939),(-0.475,-1.896),(-0.446,-1.948),(-0.38,-1.953),(-0.54,-1.93),(-0.58,-1.90)]
row_m2_b = [(0.083,-1.915),(0.124,-1.915),(0.161,-2.038),(0.207,-1.995),(0.236,-1.948),(0.264,-2.033),(0.27,-2.04),(0.298,-1.948),(0.339,-1.892),(0.36,-2.0),(0.388,-1.929),(0.426,-1.906),(0.492,-1.911),(0.326,-2.146),(0.508,-2.024),(0.579,-2.07),(0.678,-1.976),(0.682,-2.066),(0.719,-1.882),(0.80,-1.878),(0.806,-1.972),(0.847,-1.878),(0.855,-2.024),(0.13,-1.95),(0.17,-1.96),(0.25,-1.96),(0.32,-1.96),(0.37,-1.96),(0.66,-1.96)]

regions = [blob_m2_2,left_edge_top,top_row_a,blob_m1_2,edge_m1_upper,blob_m2_1,row_1_a,blob_m1_1,row_1_b,top_row_b,blob_0_2,edge_0_upper,isolated,blob_0_1,row_1_c,
           blob_1_2,edge_1_upper,top_row_c,blob_2_2,blob_2_1,blob_1_1,above_m2_0,blob_m2_0,row_0_a,blob_m1_0,edge_m1_mid,edge_m2_mid,row_m1_a,blob_m1_m1,edge_m1_lower,diagonal,
           blob_m2_m2,row_m2_a,blob_m1_m2,row_0_b,blob_0_0,row_0_c,edge_0_lower_a,edge_0_mid,blob_0_m1,row_m1_b,edge_1_mid,scatter_right,row_0_d,blob_1_0,edge_1_lower_a,
           blob_1_m1,row_m1_c,blob_2_m1,edge_2_lower,blob_2_m2,blob_1_m2,blob_2_0,edge_0_lower_b,blob_0_m2,row_m2_b]

# The cluster cores are many overlapping points in the reference, so they are stacked to reach its solid colour.
core_parts = [blob_m2_2[:46],blob_m1_2[:29],blob_m2_1[:36],blob_m1_1[:31],blob_0_2[:40],blob_0_1[:42],blob_1_2[:40],blob_2_2[:38],blob_2_1[:32],
              blob_1_1[:27],blob_m2_0[7:],blob_m1_0[:31],blob_0_0[:49],blob_m1_m1[:37],blob_m2_m2[6:49],blob_m1_m2[:36],blob_0_m1[2:],blob_1_0[:37],
              blob_1_m1,blob_2_m1[:23],blob_2_m2[:28],blob_1_m2[:35],blob_2_0[:49],edge_0_lower_b[:47],blob_0_m2[:59]]
band_parts = [top_row_a[12:37],row_0_a[6:19]]

points = [p for r in regions for p in r] + [p for r in core_parts for p in r] * 2 + [p for r in band_parts for p in r]
xs = [p[0] for p in points]
ys = [p[1] for p in points]

tick_values = [-2, -1, 0, 1, 2]
tick_labels = ["\u22122", "\u22121", "0", "1", "2"]
x_range = [-2.43, 2.362]
y_range = [-2.833, 2.499]
GRID = "#b0b0b0"

fig = go.Figure(go.Scatter(x=xs, y=ys, mode="markers", hoverinfo="skip",
    marker=dict(size=24, color="#1f77b4", opacity=0.5, line=dict(width=0))))

shapes = []
for v in tick_values:
    shapes.append(dict(type="line", xref="x", yref="y", x0=v, x1=v, y0=y_range[0], y1=y_range[1], layer="above", line=dict(color=GRID, width=3.3)))
    shapes.append(dict(type="line", xref="x", yref="y", x0=x_range[0], x1=x_range[1], y0=v, y1=v, layer="above", line=dict(color=GRID, width=3.3)))

axis = dict(tickmode="array", tickvals=tick_values, ticktext=tick_labels, showgrid=False, zeroline=False,
            showline=True, mirror=True, linecolor="black", linewidth=3.3, ticks="outside", ticklen=14.6,
            tickwidth=3.3, tickcolor="black", layer="above traces",
            tickfont=dict(family="DejaVu Sans", size=41.67, color="black"))
fig.update_layout(width=1259, height=1209, margin=dict(l=96, r=1, t=1, b=70), paper_bgcolor="white", plot_bgcolor="white",
                  showlegend=False, shapes=shapes,
                  xaxis=dict(axis, range=x_range, ticklabelstandoff=-5), yaxis=dict(axis, range=y_range, ticklabelstandoff=4))
fig.write_html("out.html", post_script="document.body.style.margin='0';", config=dict(displayModeBar=False))
